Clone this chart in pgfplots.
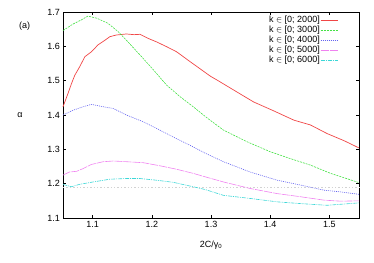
\documentclass[border=0pt]{standalone}
\usepackage{fontspec}
\setmainfont{Liberation Sans}
\usepackage{pgfplots}
\pgfplotsset{compat=1.18}
\definecolor{cR}{RGB}{240,70,70}
\definecolor{cG}{RGB}{70,225,70}
\definecolor{cB}{RGB}{100,100,240}
\definecolor{cM}{RGB}{240,130,240}
\definecolor{cC}{RGB}{60,215,215}
\begin{document}
\fontsize{9}{10}\selectfont
\begin{tikzpicture}
\path[use as bounding box] (-63pt,-44pt) rectangle (311pt,218pt);
\begin{axis}[
  scale only axis, width=296pt, height=206pt,
  at={(0,0)}, anchor=south west,
  xmin=1.05, xmax=1.55, ymin=1.1, ymax=1.7,
  xtick={1.1,1.2,1.3,1.4,1.5},
  ytick={1.1,1.2,1.3,1.4,1.5,1.6,1.7},
  tick align=inside, major tick length=3pt,
  tick style={black, line width=0.6pt},
  axis line style={line width=0.8pt},
  /pgf/number format/assume math mode=true,
  /pgf/number format/fixed, /pgf/number format/fixed zerofill, /pgf/number format/precision=1,
  ticklabel style={font=\fontsize{9}{10}\selectfont},
  xlabel={2C/γ\textsubscript{0}},
  ylabel={α},
  every axis x label/.style={at={(axis description cs:0.5,-0.13)},anchor=center},
  every axis y label/.style={at={(axis description cs:-0.145,0.5)},anchor=center},
  clip=false,
  legend cell align=right,
  legend style={draw=none, fill=none, at={(axis description cs:0.94,0.995)}, anchor=north east,
    font=\fontsize{9}{9}\selectfont, row sep=0.6pt, legend plot pos=right,
    nodes={inner sep=0.5pt, text height=6.6pt, text depth=1.9pt}},
]
\addplot[gray!35, line width=1.4pt, dotted, forget plot] coordinates {(1.05,1.188)(1.55,1.188)};
\addplot[cR, line width=0.7pt] coordinates {
(1.050,1.424)(1.0585,1.463)(1.064,1.49)(1.070,1.516)(1.078,1.540)(1.087,1.570)(1.098,1.584)(1.109,1.604)(1.121,1.618)(1.129,1.628)(1.140,1.633)(1.157,1.636)(1.170,1.634)(1.180,1.635)(1.194,1.623)(1.208,1.613)(1.225,1.599)(1.242,1.584)(1.265,1.555)(1.282,1.534)(1.299,1.513)(1.310,1.502)(1.338,1.473)(1.372,1.438)(1.406,1.412)(1.440,1.385)(1.468,1.371)(1.496,1.346)(1.525,1.325)(1.550,1.304)};
\addlegendentry{k $\in$ [0; 2000]}
\addplot[cG, line width=0.6pt, dash pattern=on 2pt off 1pt] coordinates {
(1.050,1.646)(1.067,1.665)(1.081,1.677)(1.092,1.688)(1.107,1.682)(1.126,1.667)(1.143,1.643)(1.157,1.618)(1.180,1.575)(1.203,1.531)(1.225,1.487)(1.248,1.453)(1.270,1.424)(1.293,1.392)(1.321,1.356)(1.361,1.322)(1.400,1.293)(1.434,1.273)(1.468,1.254)(1.502,1.230)(1.550,1.203)};
\addlegendentry{k $\in$ [0; 3000]}
\addplot[cB, line width=0.6pt, dash pattern=on 1pt off 1pt] coordinates {
(1.050,1.400)(1.067,1.414)(1.084,1.424)(1.098,1.431)(1.118,1.424)(1.135,1.419)(1.157,1.400)(1.186,1.380)(1.208,1.361)(1.236,1.336)(1.270,1.307)(1.290,1.289)(1.321,1.264)(1.366,1.234)(1.412,1.210)(1.451,1.196)(1.491,1.181)(1.519,1.176)(1.550,1.169)};
\addlegendentry{k $\in$ [0; 4000]}
\addplot[cM, line width=0.6pt, dash pattern=on 8pt off 1pt] coordinates {
(1.050,1.225)(1.061,1.234)(1.073,1.236)(1.084,1.244)(1.098,1.256)(1.118,1.264)(1.135,1.266)(1.157,1.264)(1.186,1.261)(1.214,1.252)(1.242,1.242)(1.270,1.230)(1.290,1.220)(1.321,1.205)(1.366,1.186)(1.412,1.171)(1.451,1.162)(1.491,1.152)(1.519,1.149)(1.550,1.150)};
\addlegendentry{k $\in$ [0; 5000]}
\addplot[cC, line width=0.6pt, dash pattern=on 4pt off 1pt on 1pt off 1pt] coordinates {
(1.050,1.198)(1.064,1.191)(1.078,1.198)(1.101,1.205)(1.129,1.213)(1.157,1.215)(1.180,1.215)(1.208,1.210)(1.236,1.204)(1.270,1.191)(1.290,1.183)(1.321,1.166)(1.366,1.157)(1.412,1.147)(1.451,1.142)(1.496,1.137)(1.519,1.140)(1.550,1.144)};
\addlegendentry{k $\in$ [0; 6000]}
\node[anchor=center] at (axis description cs:-0.13,0.93) {(a)};
\end{axis}
\end{tikzpicture}
\end{document}
